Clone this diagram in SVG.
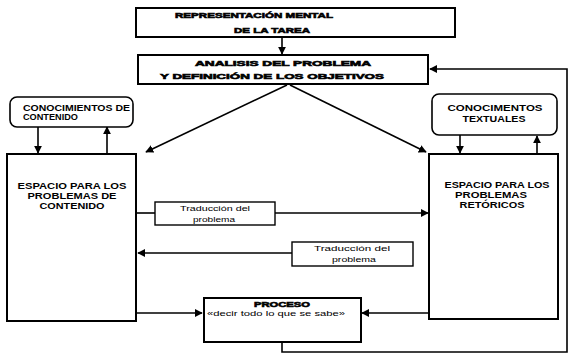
<svg xmlns="http://www.w3.org/2000/svg" width="571" height="355" viewBox="0 0 571 355">
<style>
.box{fill:#fff;stroke:#000;stroke-width:2}
.rbox{fill:#fff;stroke:#000;stroke-width:1.6}
.sbox{fill:#fff;stroke:#000;stroke-width:1.4}
.ln{fill:none;stroke:#000;stroke-width:1.6}
.hv{font-family:"Liberation Sans",Arial,sans-serif;font-weight:900;font-size:7.5px;fill:#000;stroke:#000;stroke-width:0.6}
.b{font-family:"Liberation Sans",Arial,sans-serif;font-weight:bold;font-size:9px;fill:#000}
.s{font-family:"Liberation Sans",Arial,sans-serif;font-size:7.5px;fill:#000}
</style>
<defs>
<marker id="ah" viewBox="0 0 10 10" refX="9" refY="5" markerWidth="8" markerHeight="8" markerUnits="userSpaceOnUse" orient="auto">
<path d="M0,0 L10,5 L0,10 Z" fill="#000"/>
</marker>
</defs>
<rect width="571" height="355" fill="#fff"/>
<g id="connectors">
<line class="ln" x1="282" y1="38" x2="282" y2="54" marker-end="url(#ah)"/>
<line class="ln" x1="287" y1="85" x2="146" y2="152" marker-end="url(#ah)"/>
<line class="ln" x1="290" y1="85" x2="426" y2="152" marker-end="url(#ah)"/>
<polyline class="ln" points="282,342 282,352 567,352 567,69 430,69" marker-end="url(#ah)"/>
<line class="ln" x1="38" y1="127" x2="38" y2="153" marker-end="url(#ah)"/>
<line class="ln" x1="107" y1="154" x2="107" y2="127" marker-end="url(#ah)"/>
<line class="ln" x1="460" y1="135" x2="460" y2="153" marker-end="url(#ah)"/>
<line class="ln" x1="537" y1="154" x2="537" y2="136" marker-end="url(#ah)"/>
<line class="ln" x1="136" y1="213" x2="155" y2="213"/>
<line class="ln" x1="275" y1="213" x2="428" y2="213" marker-end="url(#ah)"/>
<line class="ln" x1="292" y1="253" x2="138" y2="253" marker-end="url(#ah)"/>
<line class="ln" x1="136" y1="313" x2="202" y2="313" marker-end="url(#ah)"/>
<line class="ln" x1="429" y1="313" x2="362" y2="313" marker-end="url(#ah)"/>
</g>
<g id="representacion">
<rect class="box" x="136" y="8" width="319" height="29"/>
<text class="hv" x="254" y="18" text-anchor="middle" textLength="158" lengthAdjust="spacingAndGlyphs">REPRESENTACIÓN MENTAL</text>
<text class="hv" x="272" y="33" text-anchor="middle" textLength="76" lengthAdjust="spacingAndGlyphs">DE LA TAREA</text>
</g>
<g id="analisis">
<rect class="box" x="138" y="55" width="290" height="29"/>
<text class="hv" x="283" y="66" text-anchor="middle" textLength="176" lengthAdjust="spacingAndGlyphs">ANALISIS DEL PROBLEMA</text>
<text class="hv" x="272" y="79" text-anchor="middle" textLength="224" lengthAdjust="spacingAndGlyphs">Y DEFINICIÓN DE LOS OBJETIVOS</text>
</g>
<g id="conocimientos-contenido">
<rect class="rbox" x="10" y="97" width="123" height="30" rx="7"/>
<text class="b" x="23" y="111" textLength="107" lengthAdjust="spacingAndGlyphs">CONOCIMIENTOS DE</text>
<text class="b" x="23" y="120" textLength="55" lengthAdjust="spacingAndGlyphs">CONTENIDO</text>
</g>
<g id="conocimientos-textuales">
<rect class="rbox" x="432" y="94" width="125" height="41" rx="7"/>
<text class="b" x="495" y="111" text-anchor="middle" textLength="95" lengthAdjust="spacingAndGlyphs">CONOCIMENTOS</text>
<text class="b" x="494" y="122" text-anchor="middle" textLength="63" lengthAdjust="spacingAndGlyphs">TEXTUALES</text>
</g>
<g id="espacio-contenido">
<rect class="box" x="7" y="154" width="129" height="167"/>
<text class="b" x="72" y="189" text-anchor="middle" textLength="109" lengthAdjust="spacingAndGlyphs">ESPACIO PARA LOS</text>
<text class="b" x="72" y="199" text-anchor="middle" textLength="89" lengthAdjust="spacingAndGlyphs">PROBLEMAS DE</text>
<text class="b" x="72" y="209" text-anchor="middle" textLength="65" lengthAdjust="spacingAndGlyphs">CONTENIDO</text>
</g>
<g id="espacio-retoricos">
<rect class="box" x="429" y="154" width="129" height="165"/>
<text class="b" x="497" y="188" text-anchor="middle" textLength="105" lengthAdjust="spacingAndGlyphs">ESPACIO PARA LOS</text>
<text class="b" x="491" y="198" text-anchor="middle" textLength="72" lengthAdjust="spacingAndGlyphs">PROBLEMAS</text>
<text class="b" x="492" y="208" text-anchor="middle" textLength="65" lengthAdjust="spacingAndGlyphs">RETÓRICOS</text>
</g>
<g id="traduccion1">
<rect class="sbox" x="155" y="202" width="120" height="23"/>
<text class="s" x="215" y="211" text-anchor="middle" textLength="70" lengthAdjust="spacingAndGlyphs">Traducción del</text>
<text class="s" x="214" y="222" text-anchor="middle" textLength="42" lengthAdjust="spacingAndGlyphs">problema</text>
</g>
<g id="traduccion2">
<rect class="sbox" x="292" y="242" width="121" height="24"/>
<text class="s" x="352" y="251" text-anchor="middle" textLength="76" lengthAdjust="spacingAndGlyphs">Traducción del</text>
<text class="s" x="354" y="262" text-anchor="middle" textLength="44" lengthAdjust="spacingAndGlyphs">problema</text>
</g>
<g id="proceso">
<rect class="box" x="204" y="298" width="157" height="44"/>
<text class="hv" x="282" y="307" text-anchor="middle" textLength="56" lengthAdjust="spacingAndGlyphs">PROCESO</text>
<text class="s" x="276" y="316" text-anchor="middle" textLength="138" lengthAdjust="spacingAndGlyphs">«decir todo lo que se sabe»</text>
</g>
</svg>
